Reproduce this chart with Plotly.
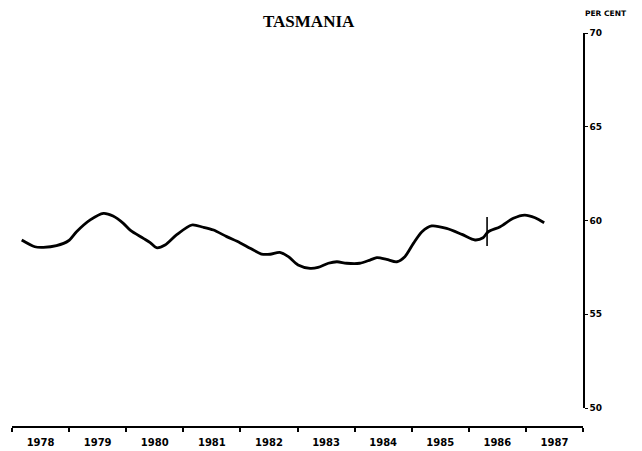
import plotly.graph_objects as go

# Participation rate, Tasmania (per cent), smoothed trend
years = [1978.17, 1978.40, 1978.55, 1978.78, 1978.99, 1979.13, 1979.37, 1979.60,
         1979.77, 1979.95, 1980.07, 1980.30, 1980.42, 1980.53, 1980.68, 1980.88,
         1981.15, 1981.35, 1981.53, 1981.76, 1981.99, 1982.17, 1982.37, 1982.52,
         1982.69, 1982.84, 1983.01, 1983.22, 1983.36, 1983.54, 1983.69, 1983.86,
         1984.09, 1984.27, 1984.39, 1984.56, 1984.74, 1984.88, 1985.03, 1985.18,
         1985.35, 1985.61, 1985.88, 1986.11, 1986.25, 1986.34, 1986.55, 1986.78,
         1986.98, 1987.16, 1987.32]
rate = [58.96, 58.60, 58.57, 58.66, 58.92, 59.40, 60.03, 60.38,
        60.24, 59.85, 59.49, 59.05, 58.82, 58.55, 58.69, 59.23,
        59.76, 59.64, 59.49, 59.14, 58.82, 58.52, 58.21, 58.20,
        58.30, 58.07, 57.63, 57.45, 57.50, 57.72, 57.80, 57.72,
        57.72, 57.89, 58.02, 57.93, 57.80, 58.07, 58.78, 59.40,
        59.71, 59.58, 59.26, 58.96, 59.08, 59.40, 59.67, 60.12,
        60.29, 60.15, 59.88]

# Series break marker
break_year = [1986.32, 1986.32]
break_span = [58.64, 60.19]

year_bounds = list(range(1978, 1989))
year_labels = [str(y) for y in range(1978, 1988)]
year_mids = [y + 0.5 for y in range(1978, 1988)]
y_ticks = [50, 55, 60, 65, 70]

W, H = 642, 451
ml, mr, mt, mb = 12, 59, 33, 24
plot_h = H - mt - mb

fig = go.Figure()
fig.add_trace(go.Scatter(
    x=years, y=rate, mode="lines",
    line=dict(color="black", width=2.8, shape="spline", smoothing=0.8),
    showlegend=False, hoverinfo="skip",
))
fig.add_trace(go.Scatter(
    x=break_year, y=break_span, mode="lines",
    line=dict(color="black", width=1.6),
    showlegend=False, hoverinfo="skip",
))

x_font = dict(family="DejaVu Sans", size=10, color="black", weight="bold")
y_font = dict(family="DejaVu Sans", size=9, color="black", weight="bold")

fig.update_layout(
    width=W, height=H,
    margin=dict(l=ml, r=mr, t=mt, b=mb, pad=0, autoexpand=False),
    paper_bgcolor="white", plot_bgcolor="white",
    xaxis=dict(
        range=[1978, 1988], showgrid=False, zeroline=False,
        showline=True, linecolor="black", linewidth=1.6,
        tickvals=year_mids, ticktext=year_labels, ticks="",
        tickfont=x_font, ticklabelstandoff=6, automargin=False,
        minor=dict(tickvals=year_bounds, ticks="outside", ticklen=4,
                   tickwidth=1.6, tickcolor="black", showgrid=False),
        anchor="free", position=0,
    ),
    yaxis=dict(
        range=[50, 70], domain=[19 / plot_h, 1], side="right",
        showgrid=False, zeroline=False, automargin=False,
        showline=True, linecolor="black", linewidth=1.6,
        tickvals=y_ticks, ticks="outside", ticklen=3, tickwidth=1.4,
        tickcolor="black", tickfont=y_font, anchor="x",
    ),
    annotations=[
        dict(text="TASMANIA", xref="paper", yref="paper",
             x=(309 - ml) / (W - ml - mr), y=1 + (mt - 22) / plot_h,
             xanchor="center", yanchor="middle", showarrow=False,
             font=dict(family="Liberation Serif", size=17, color="black",
                       weight="bold")),
        dict(text="PER CENT", xref="paper", yref="paper",
             x=(606 - ml) / (W - ml - mr), y=1 + (mt - 14) / plot_h,
             xanchor="center", yanchor="middle", showarrow=False,
             font=dict(family="DejaVu Sans", size=7.5, color="black",
                       weight="bold")),
    ],
)

fig.write_html("out.html")
